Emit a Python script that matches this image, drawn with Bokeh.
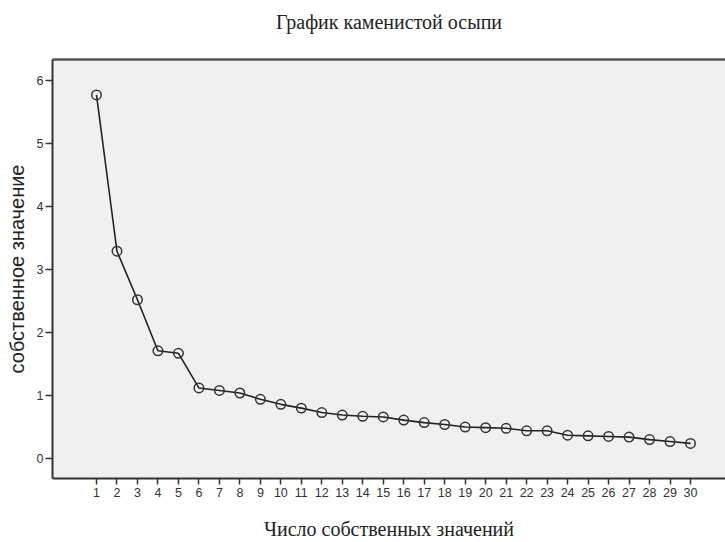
from bokeh.plotting import figure
from bokeh.models import FixedTicker, Range1d, LinearAxis, Title
from bokeh.embed import file_html
from bokeh.resources import INLINE

components = list(range(1, 31))
eigenvalues = [5.77, 3.29, 2.52, 1.71, 1.67, 1.12, 1.08, 1.04, 0.94, 0.86,
               0.80, 0.73, 0.69, 0.67, 0.66, 0.61, 0.57, 0.54, 0.50, 0.49,
               0.48, 0.44, 0.44, 0.37, 0.36, 0.35, 0.34, 0.30, 0.27, 0.24]
y_ticks = [0, 1, 2, 3, 4, 5, 6]

title_text = "График каменистой осыпи"
x_label = "Число собственных значений"
y_label = "собственное значение"

X0, X1 = -1.148, 31.709
Y0, Y1 = -0.317, 6.333

p = figure(width=725, height=542, output_backend="svg", toolbar_location=None,
           x_range=Range1d(X0, X1), y_range=Range1d(Y0, Y1),
           min_border_left=52, min_border_right=0, min_border_top=59, min_border_bottom=64,
           title=None)

p.border_fill_color = "white"
p.background_fill_color = "#f0f0f0"
p.outline_line_color = None
p.grid.visible = False

xax = p.below[0]
yax = p.left[0]

for ax in (xax, yax):
    ax.axis_line_color = "#333333"
    ax.axis_line_width = 2
    ax.major_tick_line_color = "#333333"
    ax.major_tick_line_width = 1.5
    ax.major_tick_in = 0
    ax.minor_tick_line_color = None
    ax.major_label_text_font = "Liberation Sans"
    ax.major_label_text_font_size = "12.5px"
    ax.major_label_text_color = "#333333"

xax.ticker = FixedTicker(ticks=components)
xax.major_tick_out = 6
xax.major_label_standoff = 3
xax.axis_label = x_label
xax.axis_label_text_font = "Liberation Serif"
xax.axis_label_text_font_size = "20px"
xax.axis_label_text_font_style = "normal"
xax.axis_label_text_color = "#222222"
xax.axis_label_standoff = 18

yax.ticker = FixedTicker(ticks=y_ticks)
yax.major_tick_out = 7
yax.major_label_standoff = 2
yax.axis_label = y_label
yax.axis_label_text_font = "Liberation Sans"
yax.axis_label_text_font_size = "20px"
yax.axis_label_text_font_style = "normal"
yax.axis_label_text_color = "#222222"
yax.axis_label_standoff = 6

# top border line: an axis whose single tick is fully transparent;
# the tick length also spaces the title upward
top_axis = LinearAxis(ticker=FixedTicker(ticks=[15]), axis_line_color="#555555",
                      axis_line_width=2.5, major_tick_out=19, major_tick_in=0,
                      major_tick_line_color="#555555", major_tick_line_alpha=0.0,
                      minor_tick_line_color=None,
                      major_label_standoff=0, major_label_overrides={15: ""},
                      major_label_text_font_size="1px")
p.add_layout(top_axis, "above")

title = Title(text=title_text, text_font="Liberation Serif", text_font_size="20px",
              text_font_style="normal", text_color="#222222", align="center",
              standoff=16)
p.add_layout(title, "above")

p.line(components, eigenvalues, line_color="#222222", line_width=1.6)
p.scatter(components, eigenvalues, marker="circle", size=9.5, fill_color=None,
          line_color="#333333", line_width=1.5)

open("out.html", "w").write(file_html(p, INLINE))
